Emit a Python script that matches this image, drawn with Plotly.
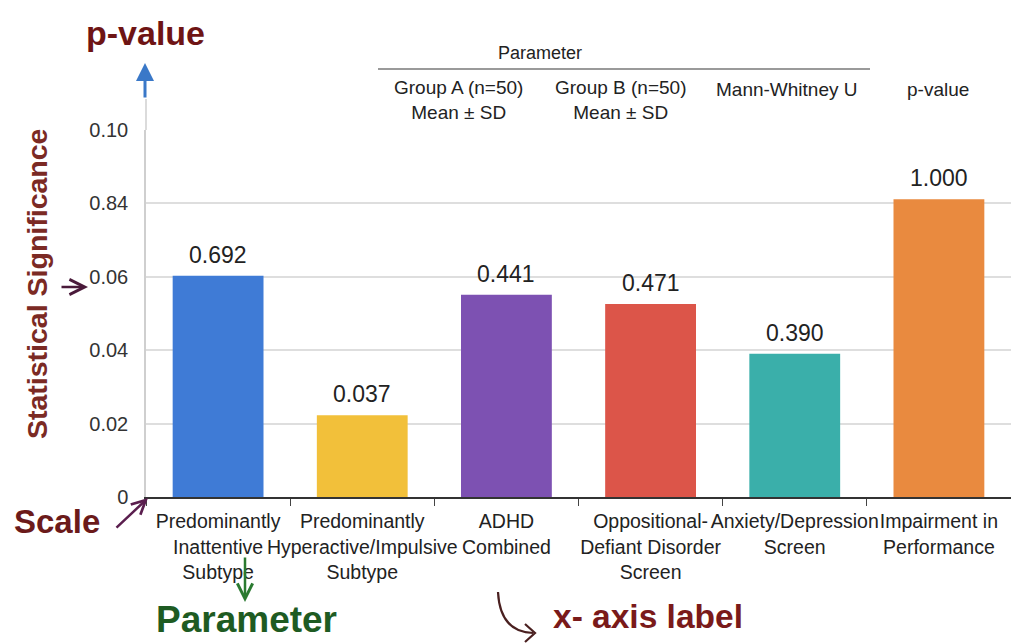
import plotly.graph_objects as go

# ---------------- data ----------------
categories = [
    "Predominantly<br>Inattentive<br>Subtype",
    "Predominantly<br>Hyperactive/Impulsive<br>Subtype",
    "ADHD<br>Combined",
    "Oppositional-<br>Defiant Disorder<br>Screen",
    "Anxiety/Depression<br>Screen",
    "Impairment in<br>Performance",
]
bar_heights = [0.0603, 0.0223, 0.0551, 0.0526, 0.0390, 0.0811]
value_labels = ["0.692", "0.037", "0.441", "0.471", "0.390", "1.000"]
bar_colors = ["#3f7bd6", "#f2c03a", "#7d51b2", "#dc5549", "#3aafaa", "#e98a3f"]
ytick_vals = [0, 0.02, 0.04, 0.06, 0.08, 0.10]
ytick_text = ["0", "0.02", "0.04", "0.06", "0.84", "0.10"]
header_cols = ["Group A (n=50)<br>Mean ± SD", "Group B (n=50)<br>Mean ± SD",
               "Mann-Whitney U", "p-value"]

# ---------------- geometry helpers (pixel -> paper) ----------------
W, H = 1011, 643
ML, MR, MT, MB = 146, 0, 130, 146
PW, PH = W - ML - MR, H - MT - MB


def px(x):
    return (x - ML) / PW


def py(y):
    return (H - MB - y) / PH


FONT = "Liberation Sans, Arial, sans-serif"

fig = go.Figure()
fig.add_trace(go.Bar(
    x=categories, y=bar_heights,
    marker=dict(color=bar_colors, line=dict(width=0)),
    hoverinfo="skip",
))

ann = []

# value labels above bars (positioned through the data axes)
for c, v, lab in zip(categories, bar_heights, value_labels):
    ann.append(dict(x=c, y=v, xref="x", yref="y", text=lab, showarrow=False,
                    xanchor="center", yanchor="bottom", yshift=6,
                    font=dict(family=FONT, size=23, color="#222")))


def text(t, x, y, size, color, bold=False, **kw):
    ann.append(dict(
        text=(f"<b>{t}</b>" if bold else t), x=px(x), y=py(y), xref="paper", yref="paper",
        showarrow=False, xanchor="center", yanchor="middle",
        font=dict(family=FONT, size=size, color=color), **kw))


def arrow(x0, y0, x1, y1, color, width=2.5, head=2, size=1.0):
    ann.append(dict(
        x=px(x1), y=py(y1), ax=x0 - x1, ay=y0 - y1, xref="paper", yref="paper",
        axref="pixel", ayref="pixel", showarrow=True, arrowhead=head,
        arrowsize=size, arrowwidth=width, arrowcolor=color, text=""))


# header table
text("Parameter", 540, 53, 18, "#222")
for t, cx, cy in zip(header_cols, [458, 621, 787, 938], [100, 100, 89, 89]):
    text(t, cx, cy, 19, "#222")

# callout labels
text("p-value", 145, 33, 34, "#6e1414", bold=True)
text("Statistical Significance", 37, 284, 28.5, "#7b2a24", bold=True, textangle=-90)
text("Scale", 57, 521, 33, "#6b1a1a", bold=True)
text("Parameter", 246, 619, 37, "#1e5b22", bold=True)
text("x- axis label", 648, 616, 33.5, "#7a1a1a", bold=True)

# arrows
arrow(145, 99, 145, 63, "#3a78c8", width=3, head=2, size=1.2)
arrow(60, 287, 88, 287, "#4a1a3a", width=2.5, head=5, size=1.2)
arrow(115, 529, 148, 498, "#5a1e4e", width=2.5, head=5, size=1.1)
arrow(245, 556, 245, 602, "#2a7a30", width=2.5, head=5, size=1.2)

shapes = [
    # header rule
    dict(type="line", xref="paper", yref="paper", x0=px(378), x1=px(870), y0=py(69), y1=py(69),
         line=dict(color="#9a9a9a", width=2)),
    # y-axis line extension above plot
    dict(type="line", xref="paper", yref="paper", x0=px(146), x1=px(146), y0=py(99), y1=py(130),
         line=dict(color="#cfcfcf", width=1.5)),
    # curved arrow
    dict(type="path", xref="paper", yref="paper",
         path=(f"M {px(498)} {py(592)} Q {px(500)} {py(632)} {px(533)} {py(633)}"),
         line=dict(color="#4a2020", width=2.2)),
    dict(type="path", xref="paper", yref="paper",
         path=(f"M {px(525)} {py(624)} L {px(535)} {py(633)} L {px(525)} {py(642)}"),
         line=dict(color="#4a2020", width=2.2)),
]

fig.update_layout(
    width=W, height=H,
    margin=dict(l=ML, r=MR, t=MT, b=MB),
    paper_bgcolor="white", plot_bgcolor="white",
    showlegend=False, bargap=0.37,
    annotations=ann, shapes=shapes,
    font=dict(family=FONT, color="#222"),
    xaxis=dict(
        range=[-0.5, 5.5], showgrid=False, showline=True, linecolor="#333", linewidth=1.5,
        ticks="outside", tickson="boundaries", ticklen=7, tickcolor="#444", tickwidth=1.2,
        tickangle=0, tickfont=dict(family=FONT, size=19.5, color="#222"),
        ticklabelstandoff=6, fixedrange=True,
    ),
    yaxis=dict(
        range=[0, 0.1], tickvals=ytick_vals, ticktext=ytick_text,
        showgrid=True, gridcolor="#dedede", gridwidth=1.5,
        showline=True, linecolor="#cfcfcf", linewidth=1.5, zeroline=False,
        ticks="", tickfont=dict(family=FONT, size=20, color="#333"),
        ticklabelstandoff=12, fixedrange=True,
    ),
)

fig.write_html("out.html")
